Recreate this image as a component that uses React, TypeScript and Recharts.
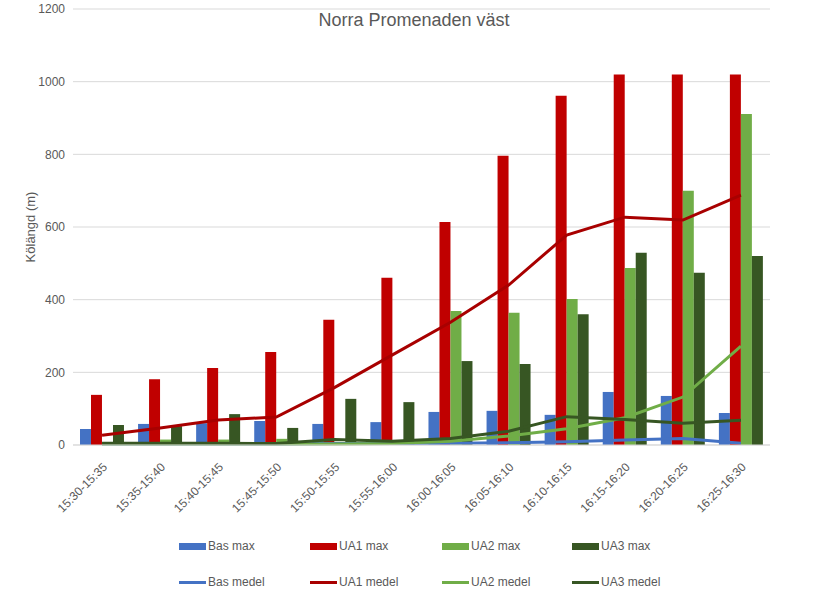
import {
  ComposedChart,
  Bar,
  Line,
  XAxis,
  YAxis,
  CartesianGrid,
  Legend,
} from 'recharts';

const FONT = '"Liberation Sans", Arial, sans-serif';
const TEXT = '#595959';

const categories = [
  '15:30-15:35',
  '15:35-15:40',
  '15:40-15:45',
  '15:45-15:50',
  '15:50-15:55',
  '15:55-16:00',
  '16:00-16:05',
  '16:05-16:10',
  '16:10-16:15',
  '16:15-16:20',
  '16:20-16:25',
  '16:25-16:30',
];

const basMax = [44, 58, 60, 66, 58, 63, 91, 94, 83, 146, 135, 88];
const ua1Max = [138, 181, 212, 256, 345, 460, 614, 796, 961, 1020, 1020, 1020];
const ua2Max = [8, 15, 15, 17, 5, 5, 369, 364, 402, 487, 700, 911];
const ua3Max = [55, 52, 85, 47, 127, 118, 231, 223, 360, 529, 474, 520];

const basMedel = [3, 3, 3, 3, 4, 4, 5, 6, 9, 14, 18, 5];
const ua1Medel = [27, 47, 69, 77, 158, 248, 338, 440, 578, 627, 619, 688];
const ua2Medel = [3, 3, 3, 3, 3, 4, 10, 25, 45, 75, 132, 272];
const ua3Medel = [5, 5, 5, 4, 15, 10, 18, 38, 78, 70, 60, 68];

const yTicks = [0, 200, 400, 600, 800, 1000, 1200];

const data = categories.map((name, i) => ({
  name,
  basMax: basMax[i],
  ua1Max: ua1Max[i],
  ua2Max: ua2Max[i],
  ua3Max: ua3Max[i],
  basMedel: basMedel[i],
  ua1Medel: ua1Medel[i],
  ua2Medel: ua2Medel[i],
  ua3Medel: ua3Medel[i],
}));

const barSeries = [
  { key: 'basMax', label: 'Bas max', color: '#4472C4' },
  { key: 'ua1Max', label: 'UA1 max', color: '#C00000' },
  { key: 'ua2Max', label: 'UA2 max', color: '#70AD47' },
  { key: 'ua3Max', label: 'UA3 max', color: '#375623' },
];

const lineSeries = [
  { key: 'basMedel', label: 'Bas medel', color: '#4472C4' },
  { key: 'ua1Medel', label: 'UA1 medel', color: '#A80000' },
  { key: 'ua2Medel', label: 'UA2 medel', color: '#70AD47' },
  { key: 'ua3Medel', label: 'UA3 medel', color: '#375623' },
];

const LEGEND_COLS = [179, 310, 442, 572];

function CustomLegend() {
  const rows = [
    { items: barSeries, top: 8, bar: true },
    { items: lineSeries, top: 44, bar: false },
  ];
  return (
    <div style={{ position: 'relative', width: 828, height: 72 }}>
      {rows.map((row) =>
        row.items.map((s, i) => (
          <div
            key={s.key}
            style={{
              position: 'absolute',
              left: LEGEND_COLS[i],
              top: row.top,
              height: 14,
              display: 'flex',
              alignItems: 'center',
              fontFamily: FONT,
              fontSize: 12,
              color: TEXT,
              whiteSpace: 'nowrap',
            }}
          >
            <span
              style={{
                display: 'inline-block',
                width: 27,
                height: row.bar ? 7 : 3,
                background: s.color,
                marginRight: 2,
              }}
            />
            {s.label}
          </div>
        ))
      )}
    </div>
  );
}

function XTick(props: any) {
  const { x, y, payload } = props;
  return (
    <g transform={`translate(${x + 3},${y + 12})`}>
      <text
        transform="rotate(-45)"
        textAnchor="end"
        fontSize={12}
        fontFamily={FONT}
        fill={TEXT}
        dy={4}
      >
        {payload.value}
      </text>
    </g>
  );
}

export default function App() {
  return (
    <div style={{ position: 'absolute', left: 0, top: 0, width: 828, height: 603, background: '#fff' }}>
      <div
        style={{
          position: 'absolute',
          left: 0,
          top: 10,
          width: 828,
          textAlign: 'center',
          fontFamily: FONT,
          fontSize: 18,
          color: TEXT,
          zIndex: 2,
          pointerEvents: 'none',
        }}
      >
        Norra Promenaden väst
      </div>
      <ComposedChart
        width={828}
        height={603}
        data={data}
        margin={{ top: 9, right: 58, bottom: 0, left: 0 }}
        barCategoryGap="12%"
        barGap={0}
      >
        <CartesianGrid vertical={false} stroke="#d9d9d9" />
        <XAxis
          dataKey="name"
          interval={0}
          height={86}
          tickLine={false}
          axisLine={{ stroke: '#d9d9d9' }}
          tick={<XTick />}
        />
        <YAxis
          width={73}
          domain={[0, 1200]}
          ticks={yTicks}
          tickLine={false}
          axisLine={false}
          tick={{ fontSize: 12, fontFamily: FONT, fill: TEXT }}
          label={{
            value: 'Kölängd (m)',
            angle: -90,
            position: 'insideLeft',
            offset: 30,
            style: { fontSize: 13, fontFamily: FONT, fill: TEXT, textAnchor: 'middle' },
          }}
        />
        <Legend
          verticalAlign="bottom"
          content={<CustomLegend />}
          wrapperStyle={{ left: 0, width: 828, height: 72 }}
        />
        {barSeries.map((s) => (
          <Bar key={s.key} dataKey={s.key} name={s.label} fill={s.color} isAnimationActive={false} />
        ))}
        {lineSeries.map((s) => (
          <Line
            key={s.key}
            type="linear"
            dataKey={s.key}
            name={s.label}
            stroke={s.color}
            strokeWidth={3}
            dot={false}
            activeDot={false}
            isAnimationActive={false}
          />
        ))}
      </ComposedChart>
    </div>
  );
}
